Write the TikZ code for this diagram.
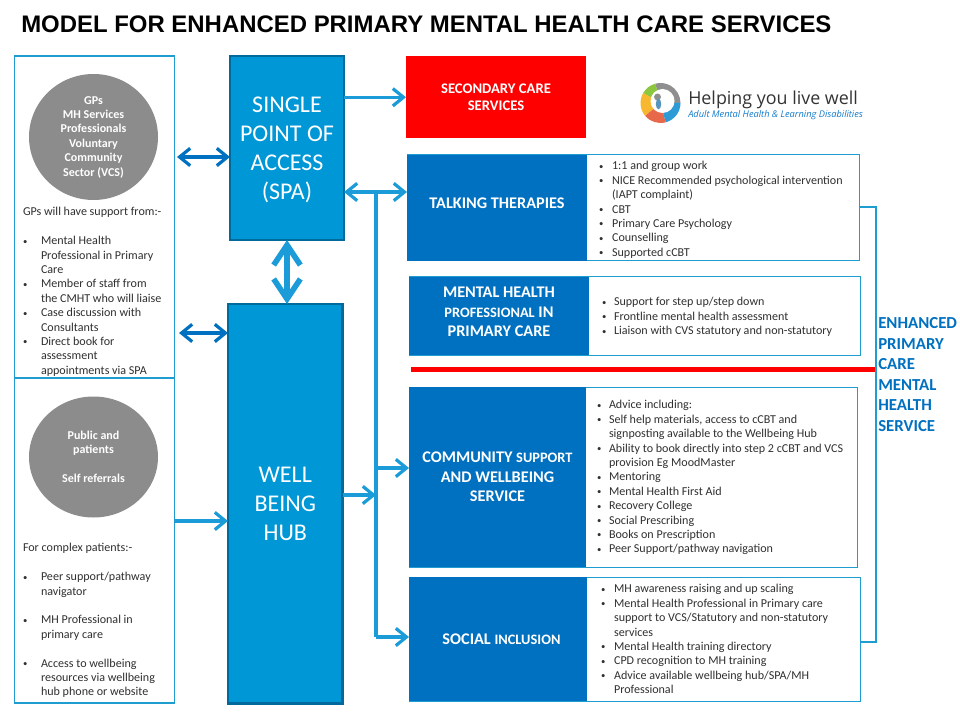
\documentclass[tikz,border=0pt]{standalone}
\usepackage{fontspec}
\setmainfont{Carlito}
\newfontfamily\ttlfont{Liberation Sans}
\newfontfamily\logofont{Open Sans}
\usetikzlibrary{arrows.meta,shapes.geometric}
\definecolor{spablue}{HTML}{0097D6}
\definecolor{spaedge}{HTML}{006A9C}
\definecolor{headblue}{HTML}{0070C0}
\definecolor{linkblue}{HTML}{1B9BD7}
\definecolor{frameblue}{HTML}{1F9CD0}
\definecolor{circgrey}{HTML}{8C8C8C}
\definecolor{bodytext}{HTML}{303030}
\definecolor{logogrey}{HTML}{8F8F8F}
\definecolor{logogreen}{HTML}{8DC63F}
\definecolor{logoyellow}{HTML}{F7B72E}
\definecolor{logored}{HTML}{E8694A}
\definecolor{logoblue}{HTML}{2E9BD6}
\newcommand{\bodyfont}{\fontsize{9.05pt}{10.8pt}\selectfont}
\newcommand{\hdfont}{\fontsize{12.2pt}{14.6pt}\selectfont\bfseries}
\newcommand{\smc}[1]{{\fontsize{10.8pt}{14.6pt}\selectfont #1}}
\newcommand{\li}[2]{\makebox[#1][l]{\raisebox{0.4pt}{\fontsize{6.5pt}{6.5pt}\selectfont\textbullet}}#2}
\newcommand{\ct}[2]{\hspace*{#1}#2}
\newcommand{\dn}[1]{\raisebox{-2.2pt}[12pt][4pt]{#1}}
\tikzset{
  x=0.75pt,y=-0.75pt,
  panel/.style={draw=frameblue,line width=0.75pt,fill=white,inner sep=0,outer sep=0,anchor=north west},
  side/.style={draw=frameblue,line width=0.9pt,fill=white,inner sep=0,outer sep=0,anchor=north west},
  hub/.style={draw=spaedge,line width=1.6pt,fill=spablue,text=white,inner sep=0,outer sep=0,anchor=north west,align=center,font=\fontsize{18pt}{21.8pt}\selectfont},
  head/.style={fill=headblue,text=white,inner sep=0,outer sep=0,anchor=north west,align=center,font=\hdfont},
  circ/.style={ellipse,fill=circgrey,text=white,inner sep=0,align=center,font=\fontsize{9pt}{10.8pt}\selectfont\bfseries},
  body/.style={anchor=north west,inner sep=0,outer sep=0,align=left,text=bodytext,font=\bodyfont},
  link/.style={draw=linkblue,line width=2.5pt,-{Straight Barb[length=8pt,width=13pt,line width=2.4pt]}},
  linkboth/.style={draw=linkblue,line width=2.5pt,{Straight Barb[length=8pt,width=13pt,line width=2.4pt]}-{Straight Barb[length=8pt,width=13pt,line width=2.4pt]}},
  both/.style={draw=headblue,line width=2.5pt,{Straight Barb[length=8pt,width=13pt,line width=2.4pt]}-{Straight Barb[length=8pt,width=13pt,line width=2.4pt]}},
  bigboth/.style={draw=linkblue,line width=4.6pt,{Straight Barb[length=15pt,width=20pt,line width=4.2pt]}-{Straight Barb[length=15pt,width=20pt,line width=4.2pt]}},
  rail/.style={draw=linkblue,line width=2.5pt},
  brace/.style={draw=frameblue,line width=1.4pt},
}
\begin{document}
\begin{tikzpicture}
\useasboundingbox (0,0) rectangle (960,720);
\node[anchor=base west,inner sep=0,font=\ttlfont\fontsize{17.95pt}{20pt}\selectfont\bfseries] (title) at (21,33) {MODEL FOR ENHANCED PRIMARY MENTAL HEALTH CARE SERVICES};

% left panels
\node[side,minimum width=160*0.75pt,minimum height=322*0.75pt] (gpbox) at (14.5,56) {};
\node[side,minimum width=160*0.75pt,minimum height=325*0.75pt] (pubbox) at (14.5,378) {};
\node[circ,minimum width=129*0.75pt,minimum height=126*0.75pt] (gpcirc) at (93.5,137) {GPs\\MH Services\\Professionals\\Voluntary\\Community\\Sector (VCS)};
\node[circ,minimum width=129*0.75pt,minimum height=121*0.75pt] (pubcirc) at (93.5,457) {Public and\\patients\\[10.8pt]Self referrals};
\node[body] (gptext) at (23,207.5) {GPs will have support from:-\\[10.8pt]
\li{13.5pt}{Mental Health}\\\ct{13.5pt}{Professional in Primary}\\\ct{13.5pt}{Care}\\
\li{13.5pt}{Member of staff from}\\\ct{13.5pt}{the CMHT who will liaise}\\
\li{13.5pt}{Case discussion with}\\\ct{13.5pt}{Consultants}\\
\li{13.5pt}{Direct book for}\\\ct{13.5pt}{assessment}\\\ct{13.5pt}{appointments via SPA}};
\node[body] (pubtext) at (23,543.5) {For complex patients:-\\[10.8pt]
\li{13.5pt}{Peer support/pathway}\\\ct{13.5pt}{navigator}\\[10.8pt]
\li{13.5pt}{MH Professional in}\\\ct{13.5pt}{primary care}\\[10.8pt]
\li{13.5pt}{Access to wellbeing}\\\ct{13.5pt}{resources via wellbeing}\\\ct{13.5pt}{hub phone or website}};

% hubs
\node[hub,minimum width=114*0.75pt,minimum height=184*0.75pt] (spa) at (230,56) {\dn{SINGLE}\\\dn{POINT OF}\\\dn{ACCESS}\\\dn{(SPA)}};
\node[hub,minimum width=114.5*0.75pt,minimum height=399.5*0.75pt] (well) at (228,304) {WELL\\BEING\\HUB};

% secondary
\node[fill=red,text=white,inner sep=0,outer sep=0,anchor=north west,align=center,font=\fontsize{11pt}{13.1pt}\selectfont\bfseries,minimum width=180*0.75pt,minimum height=82.5*0.75pt] (sec) at (406,56) {SECONDARY CARE\\SERVICES};

% service panels
\node[panel,minimum width=452*0.75pt,minimum height=106*0.75pt] (talkbody) at (407,155) {};
\node[head,minimum width=180*0.75pt,minimum height=106*0.75pt] (talkhead) at (407,155) {TALKING THERAPIES\\[-7.1pt]\mbox{}};
\node[body] (talktext) at (599,161.5) {\li{9.8pt}{1:1 and group work}\\\li{9.8pt}{NICE Recommended psychological intervention}\\\ct{9.8pt}{(IAPT complaint)}\\\li{9.8pt}{CBT}\\\li{9.8pt}{Primary Care Psychology}\\\li{9.8pt}{Counselling}\\\li{9.8pt}{Supported cCBT}};

\node[panel,minimum width=451*0.75pt,minimum height=78*0.75pt] (mhbody) at (409,277) {};
\node[head,minimum width=180*0.75pt,minimum height=78*0.75pt] (mhhead) at (409,277) {MENTAL HEALTH\\\smc{PROFESSIONAL} IN\\PRIMARY CARE\\[-8.6pt]\mbox{}};
\node[body] (mhtext) at (602,297.5) {\li{9pt}{Support for step up/step down}\\\li{9pt}{Frontline mental health assessment}\\\li{9pt}{Liaison with CVS statutory and non-statutory}};

\node[panel,minimum width=448*0.75pt,minimum height=180*0.75pt] (combody) at (409,387) {};
\node[head,minimum width=177*0.75pt,minimum height=180*0.75pt] (comhead) at (409,387) {COMMUNITY \smc{SUPPORT}\\AND WELLBEING\\SERVICE};
\node[body] (comtext) at (597,400.5) {\li{9pt}{Advice including:}\\\li{9pt}{Self help materials, access to cCBT and}\\\ct{9pt}{signposting  available to the Wellbeing Hub}\\\li{9pt}{Ability to book directly into step 2 cCBT and VCS}\\\ct{9pt}{provision Eg MoodMaster}\\\li{9pt}{Mentoring}\\\li{9pt}{Mental Health First Aid}\\\li{9pt}{Recovery College}\\\li{9pt}{Social Prescribing}\\\li{9pt}{Books on Prescription}\\\li{9pt}{Peer Support/pathway navigation}};

\node[panel,minimum width=451*0.75pt,minimum height=124*0.75pt] (socbody) at (409,577) {};
\node[head,minimum width=178*0.75pt,minimum height=124*0.75pt] (sochead) at (409,577) {\hspace*{5.2pt}SOCIAL \smc{INCLUSION}};
\node[body] (soctext) at (601,584.5) {\li{9.8pt}{MH awareness raising and up scaling}\\\li{9.8pt}{Mental Health Professional in Primary care}\\\ct{9.8pt}{support  to VCS/Statutory and non-statutory}\\\ct{9.8pt}{services}\\\li{9.8pt}{Mental Health training directory}\\\li{9.8pt}{CPD  recognition to MH training}\\\li{9.8pt}{Advice available wellbeing hub/SPA/MH}\\\ct{9.8pt}{Professional}};

% side label
\node[anchor=north west,inner sep=0,align=left,text=headblue,font=\fontsize{12.6pt}{15.4pt}\selectfont\bfseries] (enh) at (878,317.5) {ENHANCED\\PRIMARY\\CARE\\MENTAL\\HEALTH\\SERVICE};

% connectors
\coordinate (railtop) at (376,192);
\coordinate (railbot) at (376,637);
\coordinate (railcom) at (376,468);
\coordinate (railhub) at (376,495);
\coordinate (redl) at (411,369);
\coordinate (redr) at (875,369);
\coordinate (brt) at (876,207);
\coordinate (brb) at (876,642);
\draw[link] (spa.east |- sec.center) -- (sec.west);
\draw[linkboth] (spa.east |- railtop) -- (talkhead.west |- railtop);
\draw[rail] (railtop) -- (railbot);
\draw[link] (railbot) -- (sochead.west |- railbot);
\draw[link] (railcom) -- (comhead.west |- railcom);
\draw[link] (well.east |- railhub) -- (railhub);
\draw[link] (pubbox.east |- 0,521) -- (well.west |- 0,521);
\draw[both] (177,157) -- (spa.west |- 0,157);
\draw[both] (179,333) -- (well.west |- 0,333);
\draw[bigboth] (spa.south) -- (spa.south |- well.north);
\draw[line width=3.75pt,red] (redl) -- (redr);
\draw[brace] (talkbody.east |- brt) -- (brt) -- (brb) -- (socbody.east |- brb);

% logo
\begin{scope}[shift={(660.5,103)}]
\foreach \a/\b/\c in {0/105/logogrey, 105/150/logogreen, 150/220/logoyellow, 220/285/logored, 285/360/logoblue}{
  \fill[\c] (0,0) -- (-\a:20) arc[start angle=\a,end angle=\b,radius=15pt] -- cycle;
}
\fill[white] (2,-2) circle[radius=9pt];
\fill[logogrey] (-3,-6) circle[radius=2.6pt];
\fill[logoblue!60!logogrey] (-2,1) ellipse[x radius=2pt,y radius=4pt];
\end{scope}
\node[anchor=west,inner sep=0,text=black!80,font=\logofont\fontsize{13.4pt}{14pt}\selectfont] (logotext) at (688,99.5) {Helping you live well};
\node[anchor=west,inner sep=0,text=cyan!60!blue,font=\logofont\fontsize{6.95pt}{7pt}\selectfont\itshape] (logosub) at (688,115) {Adult Mental Health \& Learning Disabilities};
\end{tikzpicture}
\end{document}
